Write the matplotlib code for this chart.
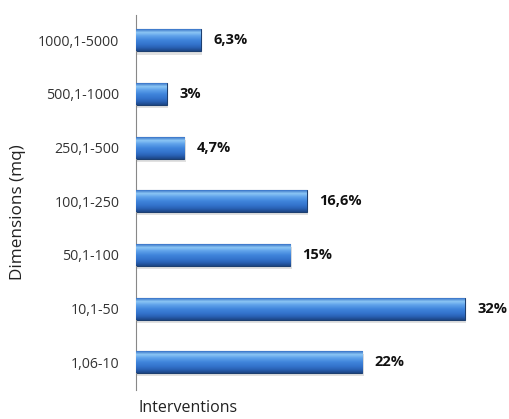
import matplotlib.pyplot as plt
import numpy as np

# size classes (mq) and share of interventions, bottom to top
dimensions = ["1,06-10", "10,1-50", "50,1-100", "100,1-250", "250,1-500", "500,1-1000", "1000,1-5000"]
shares = [22, 32, 15, 16.6, 4.7, 3, 6.3]
share_labels = ["22%", "32%", "15%", "16,6%", "4,7%", "3%", "6,3%"]

plt.rcParams["font.family"] = ["Open Sans", "DejaVu Sans"]

fig = plt.figure(figsize=(5.09, 4.19), dpi=100)
ax = fig.add_axes([0.267, 0.069, 0.717, 0.895])

# vertical shading, top row first: thin highlight near the top, dark underside
grad = np.array([[0.22, 0.45, 0.78],
                 [0.55, 0.78, 0.96],
                 [0.38, 0.64, 0.92],
                 [0.25, 0.52, 0.86],
                 [0.20, 0.45, 0.80],
                 [0.16, 0.38, 0.70],
                 [0.11, 0.27, 0.52]])
stops = np.array([0.0, 0.15, 0.3, 0.5, 0.7, 0.85, 1.0])
rows = np.linspace(0, 1, 60)
img = np.stack([np.interp(rows, stops, grad[:, c]) for c in range(3)], axis=-1)
img = img[:, None, :]

h = 0.41
bars = ax.barh(range(len(shares)), shares, height=h, color="#3b78c8", edgecolor="#1d3f70", linewidth=0.8, zorder=2)
for i, b in enumerate(bars):
    x0, y0 = b.get_x(), b.get_y()
    w, hh = b.get_width(), b.get_height()
    # soft shadow under the bar
    ax.add_patch(plt.Rectangle((x0 + 0.15, y0 - 0.06), w, hh, color="#c4c4c4", alpha=0.5, zorder=1, linewidth=0))
    im = ax.imshow(img, extent=[x0, x0 + w, y0, y0 + hh], aspect="auto", zorder=3, interpolation="bilinear")
    im.set_clip_path(b)
    ax.text(w + 1.2, i, share_labels[i], va="center", ha="left", fontsize=10.5, fontweight="bold", color="#111111")

ax.set_xlim(0, 35.5)
ax.set_ylim(-0.52, 6.47)
ax.set_yticks(range(len(dimensions)))
ax.set_yticklabels(dimensions, fontsize=10.2, color="#333333")
ax.set_xticks([])
ax.tick_params(axis="y", length=0, pad=12)
for s in ["top", "right", "bottom"]:
    ax.spines[s].set_visible(False)
ax.spines["left"].set_color("#888888")
ax.spines["left"].set_linewidth(0.8)

fig.text(0.035, 0.494, "Dimensions (mq)", rotation=90, va="center", ha="center", fontsize=12.3, color="#222222")
fig.text(0.273, 0.026, "Interventions", va="center", ha="left", fontsize=11.5, color="#222222")

fig.savefig("out.png", dpi=100)
